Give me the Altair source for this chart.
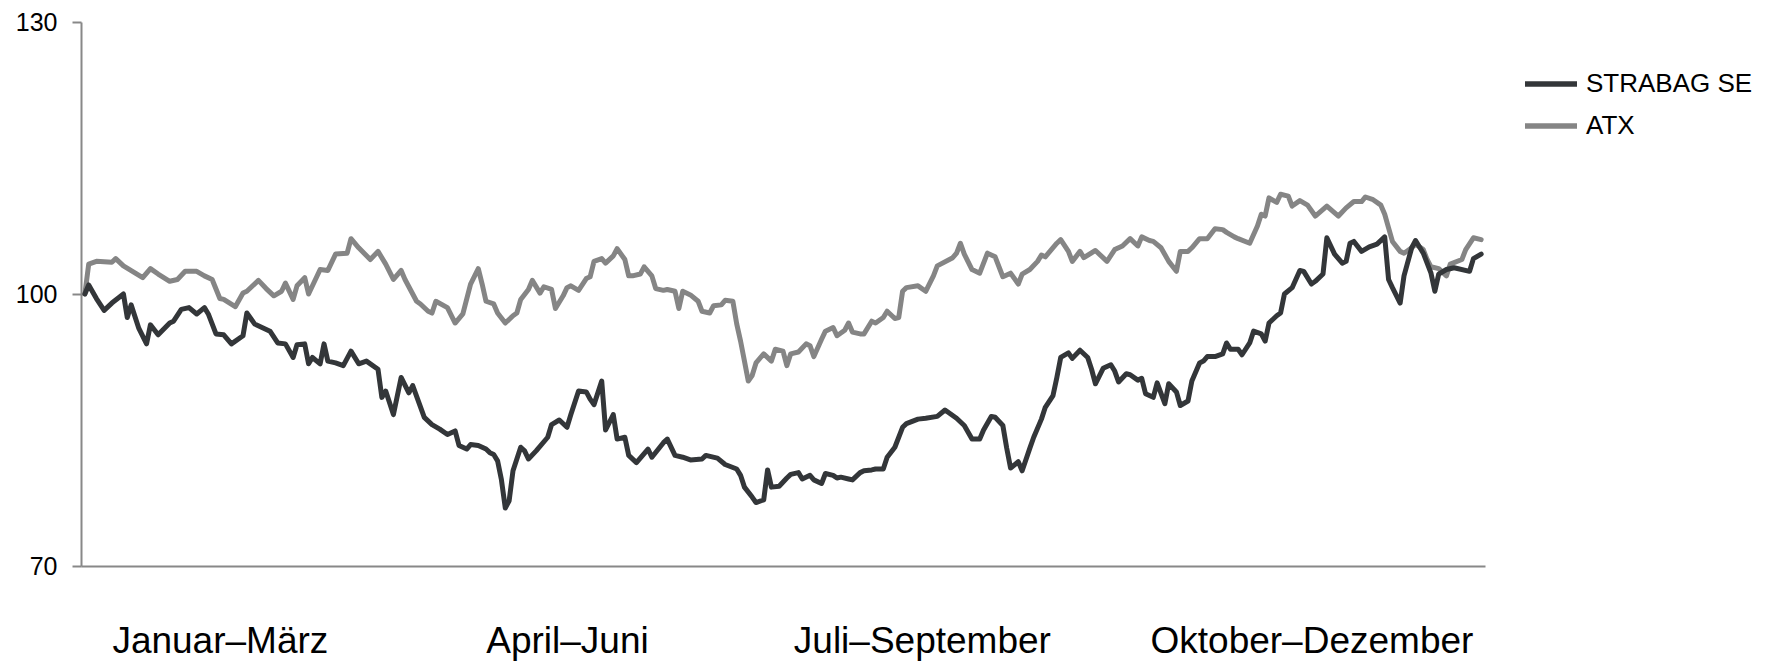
import json
import altair as alt
import pandas as pd

# Handelstag (Tag im Jahr) und indexierte Werte (Start = 100)
strabag_tag = [1, 2, 4, 6, 8, 11, 12, 13, 15, 17, 18, 20, 23, 24, 26, 28, 30, 32, 33, 35,
               37, 39, 42, 43, 45, 49, 51, 53, 55, 56, 58, 59, 60, 62, 63, 64, 66, 68, 70, 72,
               74, 77, 78, 79, 81, 83, 85, 86, 89, 91, 93, 95, 97, 98, 100, 101, 103, 105, 106, 107,
               108, 109, 110, 111, 112, 114, 115, 116, 118, 121, 122, 124, 126, 127, 129, 131, 132, 133, 135, 136,
               138, 139, 141, 142, 144, 147, 148, 151, 152, 154, 156, 158, 161, 162, 165, 167, 170, 171, 172, 174,
               175, 177, 178, 179, 181, 183, 184, 186, 187, 189, 190, 192, 193, 195, 196, 197, 199, 200, 202, 203,
               205, 206, 208, 209, 211, 213, 214, 217, 219, 222, 224, 226, 227, 229, 231, 233, 234, 236, 237, 239,
               240, 241, 243, 244, 246, 247, 249, 250, 252, 253, 254, 256, 257, 259, 261, 262, 263, 265, 267, 268,
               269, 271, 272, 274, 275, 276, 278, 279, 281, 282, 284, 285, 287, 288, 290, 291, 292, 294, 296, 297,
               298, 300, 301, 303, 304, 306, 307, 308, 310, 311, 312, 314, 316, 317, 319, 320, 322, 323, 325, 327,
               328, 329, 330, 332, 334, 336, 338, 339, 340, 342, 343, 345, 346, 348, 350, 351, 352, 354, 356, 360,
               361, 363]
strabag_wert = [100.0, 101.0, 99.5, 98.2, 99.0, 100.0, 97.4, 98.8, 96.2, 94.5, 96.6, 95.5, 96.8, 97.0, 98.3, 98.5, 97.8, 98.5, 97.8, 95.6,
                95.5, 94.5, 95.4, 97.9, 96.7, 95.9, 94.6, 94.5, 93.0, 94.4, 94.5, 92.3, 93.0, 92.3, 94.5, 92.6, 92.4, 92.1, 93.7, 92.3,
                92.6, 91.7, 88.6, 89.3, 86.7, 90.8, 89.1, 89.9, 86.4, 85.6, 85.1, 84.5, 84.9, 83.3, 82.9, 83.4, 83.3, 82.9, 82.5, 82.3,
                81.6, 79.5, 76.4, 77.2, 80.5, 83.1, 82.7, 81.8, 82.7, 84.2, 85.6, 86.1, 85.3, 86.7, 89.3, 89.2, 88.4, 87.8, 90.4, 85.0,
                86.7, 84.0, 84.2, 82.2, 81.4, 82.9, 82.0, 83.6, 84.0, 82.2, 82.0, 81.7, 81.8, 82.2, 81.9, 81.2, 80.7, 80.0, 78.7, 77.6,
                77.0, 77.3, 80.6, 78.7, 78.8, 79.7, 80.1, 80.3, 79.6, 80.0, 79.5, 79.1, 80.2, 80.0, 79.7, 79.8, 79.6, 79.5, 80.3, 80.5,
                80.6, 80.7, 80.7, 82.0, 83.1, 85.3, 85.7, 86.2, 86.3, 86.5, 87.2, 86.6, 86.3, 85.5, 84.0, 84.0, 85.0, 86.5, 86.4, 85.5,
                83.0, 80.8, 81.5, 80.5, 83.0, 84.2, 86.2, 87.5, 88.8, 90.8, 93.0, 93.5, 92.9, 93.8, 93.0, 91.7, 90.1, 91.8, 92.2, 91.5,
                90.3, 91.2, 91.1, 90.5, 90.7, 89.0, 88.6, 90.2, 87.9, 90.1, 89.2, 87.7, 88.2, 90.4, 92.4, 92.6, 93.1, 93.1, 93.4, 94.6,
                93.9, 93.9, 93.3, 94.6, 95.9, 95.6, 94.8, 96.8, 97.6, 97.9, 100.0, 100.7, 102.6, 102.5, 101.1, 101.4, 102.2, 106.2, 104.4, 103.4,
                103.6, 105.6, 105.8, 104.7, 105.2, 105.5, 106.3, 101.6, 100.7, 99.0, 102.0, 105.1, 105.9, 104.5, 102.3, 100.3, 102.2, 102.7, 102.9, 102.5,
                103.9, 104.4]

atx_tag = [1, 2, 4, 8, 9, 11, 16, 18, 20, 23, 25, 27, 30, 32, 34, 36, 37, 40, 42, 43,
           46, 48, 50, 52, 53, 55, 56, 58, 59, 62, 64, 66, 69, 70, 72, 75, 77, 79, 81, 83,
           84, 87, 88, 90, 91, 92, 95, 97, 99, 101, 103, 104, 105, 107, 108, 110, 112, 113, 114, 116,
           117, 119, 120, 122, 123, 125, 126, 127, 129, 131, 132, 133, 135, 136, 138, 139, 141, 142, 143, 145,
           146, 148, 149, 151, 152, 154, 155, 156, 158, 160, 161, 163, 164, 166, 167, 169, 170, 171, 172, 173,
           174, 175, 177, 179, 180, 182, 183, 184, 186, 188, 189, 190, 192, 193, 195, 196, 198, 199, 200, 202,
           203, 205, 206, 208, 209, 211, 212, 213, 214, 217, 219, 221, 222, 226, 227, 228, 229, 231, 233, 235,
           237, 239, 241, 243, 244, 246, 248, 249, 250, 253, 254, 256, 257, 259, 260, 263, 266, 268, 270, 272,
           274, 275, 277, 278, 280, 282, 284, 285, 287, 288, 290, 292, 294, 296, 297, 299, 300, 303, 305, 306,
           307, 308, 310, 311, 313, 314, 316, 318, 320, 323, 326, 328, 330, 332, 333, 335, 337, 338, 339, 340,
           342, 343, 345, 346, 348, 349, 350, 352, 354, 355, 358, 359, 361, 363]
atx_wert = [100.0, 103.3, 103.6, 103.5, 103.9, 103.1, 101.8, 102.8, 102.2, 101.4, 101.6, 102.5, 102.5, 102.0, 101.6, 99.5, 99.4, 98.6, 100.1, 100.3,
            101.5, 100.6, 99.8, 100.3, 101.2, 99.4, 100.9, 101.8, 100.0, 102.7, 102.6, 104.4, 104.5, 106.1, 105.1, 103.8, 104.7, 103.3, 101.6, 102.6,
            101.6, 99.2, 98.9, 98.1, 97.9, 99.2, 98.5, 96.8, 97.8, 101.1, 102.8, 101.1, 99.2, 98.9, 97.9, 96.8, 97.6, 97.9, 99.4, 100.5,
            101.5, 100.1, 100.8, 100.5, 98.4, 99.8, 100.7, 100.9, 100.4, 101.7, 101.9, 103.6, 103.9, 103.4, 104.2, 105.0, 103.8, 102.0, 102.0, 102.2,
            103.0, 102.0, 100.6, 100.4, 100.5, 100.3, 98.4, 100.3, 99.9, 99.2, 98.1, 97.9, 98.7, 98.8, 99.3, 99.2, 96.7, 94.8, 92.6, 90.4,
            91.0, 92.4, 93.4, 92.6, 93.9, 93.7, 92.1, 93.4, 93.6, 94.5, 94.3, 93.1, 95.0, 95.9, 96.3, 95.4, 96.0, 96.8, 95.8, 95.6,
            95.6, 97.0, 96.8, 97.4, 98.1, 97.3, 97.4, 100.3, 100.7, 100.9, 100.3, 102.0, 103.1, 104.0, 104.5, 105.6, 104.4, 102.7, 102.3, 104.5,
            104.1, 101.9, 102.3, 101.1, 102.2, 102.7, 103.6, 104.3, 104.1, 105.6, 106.0, 104.7, 103.6, 104.7, 104.0, 104.8, 103.6, 104.9, 105.3, 106.1,
            105.3, 106.3, 105.9, 105.8, 105.1, 103.6, 102.5, 104.7, 104.7, 105.1, 106.1, 106.1, 107.2, 107.1, 106.8, 106.3, 106.1, 105.6, 107.5, 108.8,
            108.6, 110.6, 110.1, 111.0, 110.8, 109.7, 110.3, 109.8, 108.6, 109.7, 108.6, 109.5, 110.2, 110.2, 110.7, 110.4, 109.8, 108.8, 107.3, 105.8,
            104.7, 104.5, 105.1, 105.5, 104.9, 103.8, 103.0, 102.8, 102.0, 103.3, 103.8, 104.9, 106.2, 106.0]

serien = ["STRABAG SE", "ATX"]
farben = ["#333639", "#858585"]
quartal_labels = ["Januar–März", "April–Juni", "Juli–September", "Oktober–Dezember"]
quartal_pos = [36, 126, 218, 319]
y_ticks = [70, 100, 130]

df = pd.concat([
    pd.DataFrame({"Tag": atx_tag, "Wert": atx_wert, "Serie": "ATX"}),
    pd.DataFrame({"Tag": strabag_tag, "Wert": strabag_wert, "Serie": "STRABAG SE"}),
], ignore_index=True)

label_expr = "{}[indexof({}, datum.value)]".format(
    json.dumps(quartal_labels, ensure_ascii=False), json.dumps(quartal_pos))

FONT = "Liberation Sans"
AXC = "#888888"

chart = alt.Chart(df).mark_line(strokeWidth=5, strokeJoin="round", strokeCap="round").encode(
    x=alt.X("Tag:Q",
            scale=alt.Scale(domain=[0, 364], nice=False, zero=False),
            axis=alt.Axis(values=quartal_pos, labelExpr=label_expr, ticks=False, tickSize=0,
                          grid=False, title=None, domainColor=AXC, domainWidth=2,
                          labelFont=FONT, labelFontSize=37, labelColor="black",
                          labelPadding=86, labelBaseline="alphabetic", labelAlign="center",
                          labelLimit=0, labelFlush=False, labelOverlap=False, labelBound=False)),
    y=alt.Y("Wert:Q",
            scale=alt.Scale(domain=[70, 130], nice=False, zero=False),
            axis=alt.Axis(values=y_ticks, ticks=True, tickSize=9, tickColor=AXC, tickWidth=2,
                          domainColor=AXC, domainWidth=2, grid=False, title=None,
                          labelFont=FONT, labelFontSize=25, labelColor="black", labelPadding=15)),
    color=alt.Color("Serie:N",
                    scale=alt.Scale(domain=serien, range=farben),
                    legend=alt.Legend(title=None, orient="none", legendX=1441, legendY=33,
                                      symbolType="stroke", symbolSize=2704, symbolStrokeWidth=5.5,
                                      labelFont=FONT, labelFontSize=26, labelColor="black",
                                      labelOffset=6, rowPadding=-11, padding=0, labelLimit=0)),
).properties(
    width=1404, height=544,
    padding={"left": 73, "top": 14, "right": 273, "bottom": 100},
    autosize=alt.AutoSizeParams(type="none"),
).configure_view(stroke=None)

chart.save("out.html", embed_options={"renderer": "svg", "actions": False})
